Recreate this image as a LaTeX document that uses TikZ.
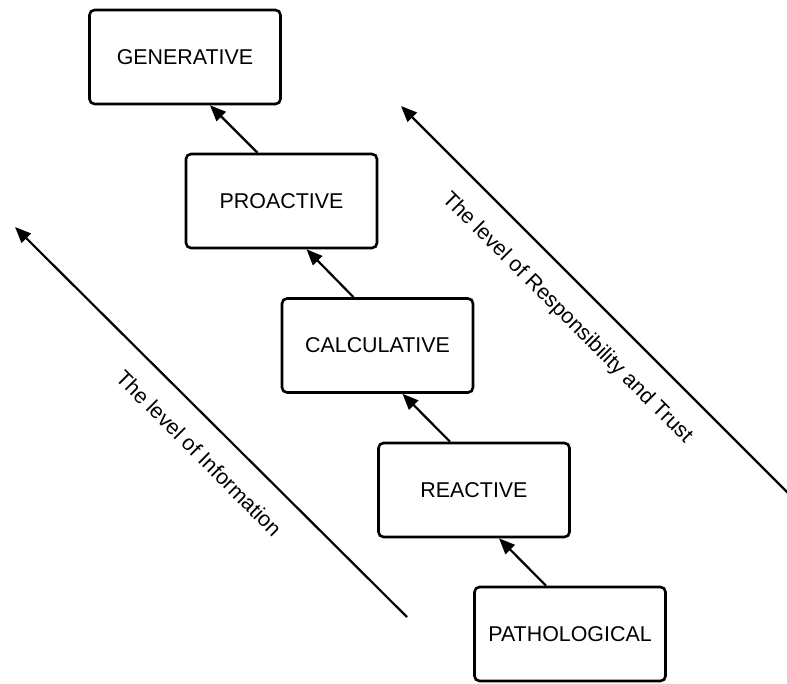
\documentclass[tikz,border=0pt]{standalone}
\usepackage{fontspec}
\setmainfont{Liberation Sans}
\usetikzlibrary{arrows.meta}
\begin{document}
\begin{tikzpicture}[x=1pt,y=-1pt,
  level/.style={draw, line width=2.6pt, rounded corners=5pt, minimum width=191pt,
    minimum height=94pt, inner sep=0pt, font=\fontsize{21.4}{25}\selectfont},
  link/.style={line width=2.2pt, -{Triangle[length=16pt,width=13pt]}},
  axislabel/.style={rotate=-45, font=\fontsize{21.4}{25}\selectfont, inner sep=0pt}]
\useasboundingbox (0,0) rectangle (787,684);

% culture levels, from top to bottom
\node[level] (gen)  at (185,57)    {GENERATIVE};
\node[level] (pro)  at (281.5,201) {PROACTIVE};
\node[level] (calc) at (377.5,345.5) {CALCULATIVE};
\node[level] (rea)  at (474,490)   {REACTIVE};
\node[level] (path) at (570,634)   {PATHOLOGICAL};

% steps upward
\draw[link] ([xshift=-24pt]pro.north)  -- ([xshift=25pt]gen.south);
\draw[link] ([xshift=-24pt]calc.north) -- ([xshift=25pt]pro.south);
\draw[link] ([xshift=-24pt]rea.north)  -- ([xshift=25pt]calc.south);
\draw[link] ([xshift=-24pt]path.north) -- ([xshift=25pt]rea.south);

% long axes
\coordinate (infoStart) at (407,617);
\coordinate (infoEnd)   at (15,227);
\coordinate (trustStart) at (790,495);
\coordinate (trustEnd)   at (401,106);
\draw[link] (infoStart) -- (infoEnd);
\draw[link] (trustStart) -- (trustEnd);

\node[axislabel] (infoText)  at (199,453) {The level of Information};
\node[axislabel] (trustText) at (567,318) {The level of Responsibility and Trust};
\end{tikzpicture}
\end{document}
